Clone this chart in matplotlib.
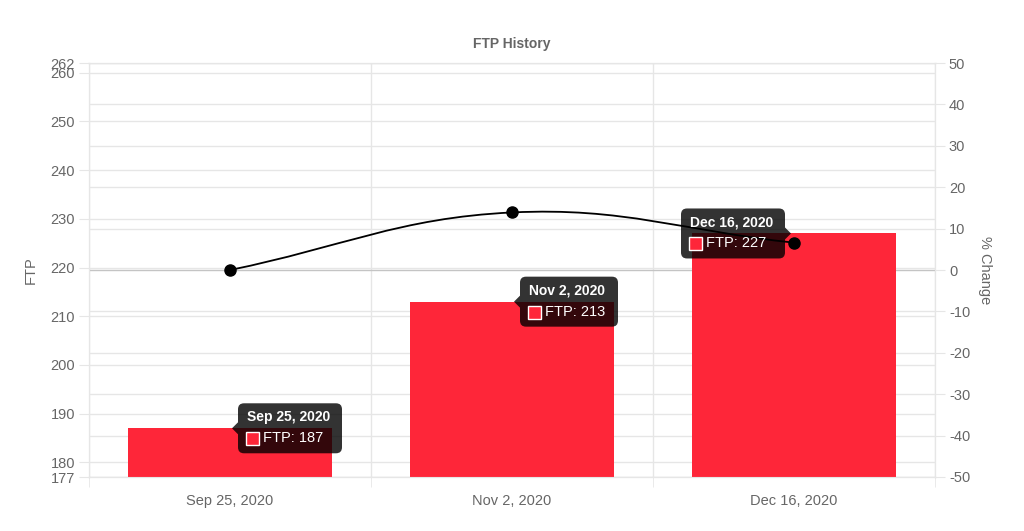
import numpy as np
import matplotlib.pyplot as plt
from matplotlib.patches import FancyBboxPatch, Polygon, Rectangle, PathPatch
from matplotlib.path import Path
from matplotlib.transforms import IdentityTransform

plt.rcParams['font.family'] = ['Liberation Sans', 'DejaVu Sans']
plt.rcParams['axes.unicode_minus'] = False

dates = ['Sep 25, 2020', 'Nov 2, 2020', 'Dec 16, 2020']
ftp = [187, 213, 227]
pct_change = [0.0, 13.9, 6.6]
ftp_ticks = [177, 180, 190, 200, 210, 220, 230, 240, 250, 260, 262]
pct_ticks = list(range(-50, 51, 10))

TXT = '#666666'
GRID = '#e6e6e6'
BAR = '#fe2639'
FS = 10.5

W, H = 1024, 531
fig = plt.figure(figsize=(W / 100, H / 100), dpi=100)
ax = fig.add_axes([89 / W, 1 - 477 / H, (935 - 89) / W, (477 - 63) / H])
ax2 = ax.twinx()

x = np.arange(len(dates))
ax.bar(x, ftp, width=0.72, color=BAR, zorder=3)
ax.set_xlim(-0.5, len(dates) - 0.5)
ax.set_ylim(177, 262)
ax.set_yticks(ftp_ticks)
ax.set_xticks(x)
ax.set_xticklabels(dates)
ax.set_xticks(np.arange(-0.5, len(dates)), minor=True)
ax.tick_params(axis='x', which='major', length=0, pad=12, labelsize=FS, labelcolor=TXT)
ax.tick_params(axis='x', which='minor', length=7, color=GRID)
ax.tick_params(axis='y', length=7, color=GRID, labelsize=FS, labelcolor=TXT, pad=3)
ax.grid(axis='y', color=GRID, lw=1, zorder=0)
ax.grid(axis='x', which='minor', color=GRID, lw=1, zorder=0)
ax.set_axisbelow(True)
ax.set_ylabel('FTP', color=TXT, fontsize=FS, labelpad=9)

ax2.set_ylim(-50, 50)
ax2.set_yticks(pct_ticks)
ax2.tick_params(axis='y', length=7, color=GRID, labelsize=FS, labelcolor=TXT, pad=3)

# right-axis grid drawn on the left axes so it stays behind the bars
lo, hi = ax.get_ylim()
for p in pct_ticks:
    yv = lo + (p + 50) / 100 * (hi - lo)
    ax.axhline(yv, color='#c4c4c4' if p == 0 else GRID, lw=1, zorder=1)
ax2.set_ylabel('% Change', color=TXT, fontsize=FS, rotation=-90, labelpad=16)

for a in (ax, ax2):
    for s in a.spines.values():
        s.set_color(GRID)

ax.set_title('FTP History', color=TXT, fontsize=10, fontweight='bold', pad=11)

# smooth line (Chart.js style bezier, tension 0.4) built in pixel space
fig.canvas.draw()
pts = ax2.transData.transform(np.column_stack([x, pct_change]))
t = 0.4
cps = []
for i in range(len(pts)):
    prev = pts[i - 1] if i > 0 else pts[i]
    nxt = pts[i + 1] if i < len(pts) - 1 else pts[i]
    cur = pts[i]
    d01 = np.hypot(*(cur - prev))
    d12 = np.hypot(*(nxt - cur))
    tot = d01 + d12
    s01 = d01 / tot if tot else 0
    s12 = d12 / tot if tot else 0
    cps.append((cur - t * s01 * (nxt - prev), cur + t * s12 * (nxt - prev)))
verts = [pts[0]]
codes = [Path.MOVETO]
for i in range(len(pts) - 1):
    verts += [cps[i][1], cps[i + 1][0], pts[i + 1]]
    codes += [Path.CURVE4] * 3
verts = ax2.transData.inverted().transform(np.array(verts))
ax2.add_patch(PathPatch(Path(verts, codes), fc='none', ec='black', lw=1.3, zorder=4))
ax2.plot(x, pct_change, 'o', color='black', ms=8, zorder=5)


def tooltip(xi, val, side):
    px, py = ax.transData.transform((xi, val))
    bw, bh = (104, 50) if len(dates[xi]) > 11 else (98, 50)
    if side == 'right':
        x0 = px + 8
    else:
        x0 = px - 9 - bw
    y0 = py - bh / 2
    box = FancyBboxPatch((x0, y0), bw, bh, boxstyle='round,pad=0,rounding_size=6',
                         fc='black', ec='none', alpha=0.8, transform=IdentityTransform(), zorder=10)
    fig.add_artist(box)
    if side == 'right':
        tri = [(x0, py + 6), (x0 - 6, py), (x0, py - 6)]
    else:
        tri = [(x0 + bw, py + 6), (x0 + bw + 6, py), (x0 + bw, py - 6)]
    fig.add_artist(Polygon(tri, closed=True, fc='black', ec='none', alpha=0.8,
                           transform=IdentityTransform(), zorder=10))
    fig.text((x0 + 9) / W, (y0 + bh - 14) / H, dates[xi], color='white', fontsize=10,
             fontweight='bold', va='center', ha='left', zorder=11)
    fig.add_artist(Rectangle((x0 + 8, y0 + 8), 13, 13, fc=BAR, ec='white', lw=1,
                             transform=IdentityTransform(), zorder=11))
    fig.text((x0 + 25) / W, (y0 + 15) / H, 'FTP: %d' % val, color='white', fontsize=10.5,
             va='center', ha='left', zorder=11)


tooltip(0, ftp[0], 'right')
tooltip(1, ftp[1], 'right')
tooltip(2, ftp[2], 'left')

fig.savefig('out.png', dpi=100)
